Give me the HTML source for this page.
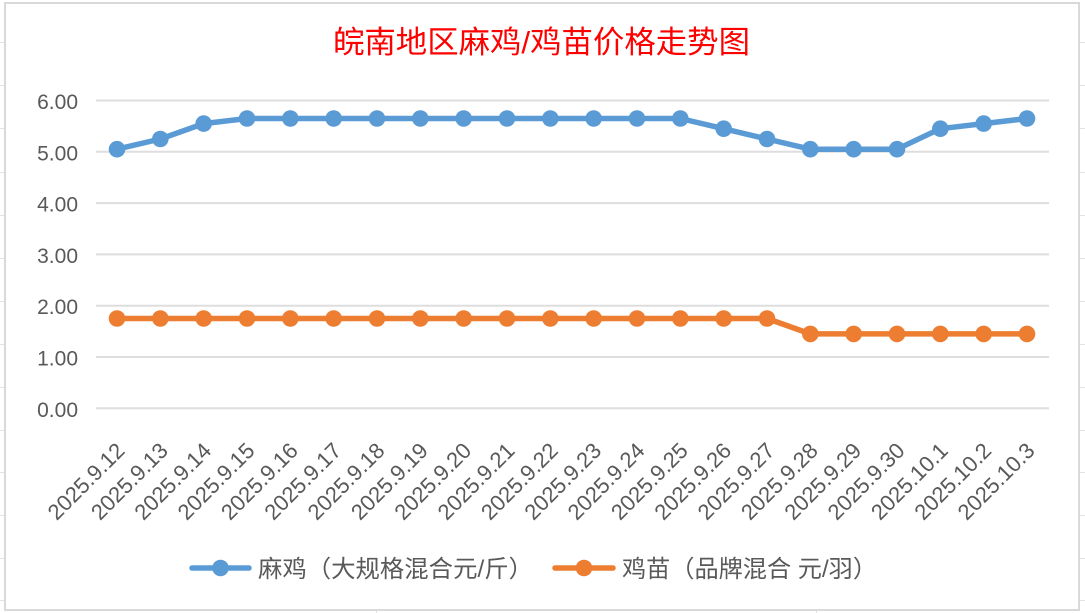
<!DOCTYPE html>
<html><head><meta charset="utf-8">
<style>
html,body{margin:0;padding:0;background:#fff;}
svg{display:block;}
.yl{font-family:"Liberation Sans",sans-serif;font-size:21px;fill:#595959;text-anchor:end;}
.xl{font-family:"Liberation Sans",sans-serif;font-size:22px;fill:#595959;text-anchor:end;}
.lg{font-family:"Liberation Sans","Noto Sans CJK SC",sans-serif;font-size:24px;fill:#595959;}
.tt{font-family:"Liberation Sans","Noto Sans CJK SC",sans-serif;font-size:31px;fill:#ff0000;text-anchor:middle;}
</style></head>
<body>
<svg width="1085" height="613" viewBox="0 0 1085 613" xmlns="http://www.w3.org/2000/svg">
<rect x="0" y="0" width="1085" height="613" fill="#fff"/>
<g stroke="#e2e2e2" stroke-width="1">
<path d="M0 42.5H4M0 85.5H4M0 128.5H4M0 172.5H4M0 215.5H4M0 258.5H4M0 301.5H4M0 344.5H4M0 387.5H4M0 430.5H4M0 472.5H4M0 515.5H4M0 558.5H4M0 600.5H4"/>
<path d="M1080 42.5H1085M1080 85.5H1085M1080 128.5H1085M1080 172.5H1085M1080 215.5H1085M1080 258.5H1085M1080 301.5H1085M1080 344.5H1085M1080 387.5H1085M1080 430.5H1085M1080 472.5H1085M1080 515.5H1085M1080 558.5H1085M1080 600.5H1085"/>
<path d="M376.5 611V613M816.5 611V613"/>
</g>
<rect x="5" y="3" width="1074" height="607" fill="#fff" stroke="#d9d9d9" stroke-width="2"/>
<text class="tt" x="541.5" y="53" textLength="417" lengthAdjust="spacingAndGlyphs">皖南地区麻鸡/鸡苗价格走势图</text>
<g stroke="#dedede" stroke-width="2">
<line x1="96" y1="100.5" x2="1049" y2="100.5"/>
<line x1="96" y1="151.8" x2="1049" y2="151.8"/>
<line x1="96" y1="203.1" x2="1049" y2="203.1"/>
<line x1="96" y1="254.4" x2="1049" y2="254.4"/>
<line x1="96" y1="305.7" x2="1049" y2="305.7"/>
<line x1="96" y1="357" x2="1049" y2="357"/>
<line x1="96" y1="408.3" x2="1049" y2="408.3"/>
</g>
<text class="yl" x="78" y="109">6.00</text>
<text class="yl" x="78" y="160.3">5.00</text>
<text class="yl" x="78" y="211.6">4.00</text>
<text class="yl" x="78" y="262.9">3.00</text>
<text class="yl" x="78" y="314.2">2.00</text>
<text class="yl" x="78" y="365.5">1.00</text>
<text class="yl" x="78" y="416.8">0.00</text>
<g>
<text class="xl" transform="translate(126,452) rotate(-45)">2025.9.12</text>
<text class="xl" transform="translate(169.33,452) rotate(-45)">2025.9.13</text>
<text class="xl" transform="translate(212.67,452) rotate(-45)">2025.9.14</text>
<text class="xl" transform="translate(256,452) rotate(-45)">2025.9.15</text>
<text class="xl" transform="translate(299.33,452) rotate(-45)">2025.9.16</text>
<text class="xl" transform="translate(342.67,452) rotate(-45)">2025.9.17</text>
<text class="xl" transform="translate(386,452) rotate(-45)">2025.9.18</text>
<text class="xl" transform="translate(429.33,452) rotate(-45)">2025.9.19</text>
<text class="xl" transform="translate(472.67,452) rotate(-45)">2025.9.20</text>
<text class="xl" transform="translate(516,452) rotate(-45)">2025.9.21</text>
<text class="xl" transform="translate(559.33,452) rotate(-45)">2025.9.22</text>
<text class="xl" transform="translate(602.67,452) rotate(-45)">2025.9.23</text>
<text class="xl" transform="translate(646,452) rotate(-45)">2025.9.24</text>
<text class="xl" transform="translate(689.33,452) rotate(-45)">2025.9.25</text>
<text class="xl" transform="translate(732.67,452) rotate(-45)">2025.9.26</text>
<text class="xl" transform="translate(776,452) rotate(-45)">2025.9.27</text>
<text class="xl" transform="translate(819.33,452) rotate(-45)">2025.9.28</text>
<text class="xl" transform="translate(862.67,452) rotate(-45)">2025.9.29</text>
<text class="xl" transform="translate(906,452) rotate(-45)">2025.9.30</text>
<text class="xl" transform="translate(949.33,452) rotate(-45)">2025.10.1</text>
<text class="xl" transform="translate(992.67,452) rotate(-45)">2025.10.2</text>
<text class="xl" transform="translate(1036,452) rotate(-45)">2025.10.3</text>
</g>
<polyline fill="none" stroke="#5b9bd5" stroke-width="5.5" stroke-linejoin="round" stroke-linecap="round"
points="117,149.2 160.33,139 203.67,123.6 247,118.5 290.33,118.5 333.67,118.5 377,118.5 420.33,118.5 463.67,118.5 507,118.5 550.33,118.5 593.67,118.5 637,118.5 680.33,118.5 723.67,128.7 767,139 810.33,149.2 853.67,149.2 897,149.2 940.33,128.7 983.67,123.6 1027,118.5"/>
<g fill="#5b9bd5">
<circle cx="117" cy="149.2" r="8.3"/><circle cx="160.33" cy="139" r="8.3"/><circle cx="203.67" cy="123.6" r="8.3"/><circle cx="247" cy="118.5" r="8.3"/><circle cx="290.33" cy="118.5" r="8.3"/><circle cx="333.67" cy="118.5" r="8.3"/><circle cx="377" cy="118.5" r="8.3"/><circle cx="420.33" cy="118.5" r="8.3"/><circle cx="463.67" cy="118.5" r="8.3"/><circle cx="507" cy="118.5" r="8.3"/><circle cx="550.33" cy="118.5" r="8.3"/><circle cx="593.67" cy="118.5" r="8.3"/><circle cx="637" cy="118.5" r="8.3"/><circle cx="680.33" cy="118.5" r="8.3"/><circle cx="723.67" cy="128.7" r="8.3"/><circle cx="767" cy="139" r="8.3"/><circle cx="810.33" cy="149.2" r="8.3"/><circle cx="853.67" cy="149.2" r="8.3"/><circle cx="897" cy="149.2" r="8.3"/><circle cx="940.33" cy="128.7" r="8.3"/><circle cx="983.67" cy="123.6" r="8.3"/><circle cx="1027" cy="118.5" r="8.3"/>
</g>
<polyline fill="none" stroke="#ed7d31" stroke-width="5.5" stroke-linejoin="round" stroke-linecap="round"
points="117,318.5 160.33,318.5 203.67,318.5 247,318.5 290.33,318.5 333.67,318.5 377,318.5 420.33,318.5 463.67,318.5 507,318.5 550.33,318.5 593.67,318.5 637,318.5 680.33,318.5 723.67,318.5 767,318.5 810.33,333.9 853.67,333.9 897,333.9 940.33,333.9 983.67,333.9 1027,333.9"/>
<g fill="#ed7d31">
<circle cx="117" cy="318.5" r="8.3"/><circle cx="160.33" cy="318.5" r="8.3"/><circle cx="203.67" cy="318.5" r="8.3"/><circle cx="247" cy="318.5" r="8.3"/><circle cx="290.33" cy="318.5" r="8.3"/><circle cx="333.67" cy="318.5" r="8.3"/><circle cx="377" cy="318.5" r="8.3"/><circle cx="420.33" cy="318.5" r="8.3"/><circle cx="463.67" cy="318.5" r="8.3"/><circle cx="507" cy="318.5" r="8.3"/><circle cx="550.33" cy="318.5" r="8.3"/><circle cx="593.67" cy="318.5" r="8.3"/><circle cx="637" cy="318.5" r="8.3"/><circle cx="680.33" cy="318.5" r="8.3"/><circle cx="723.67" cy="318.5" r="8.3"/><circle cx="767" cy="318.5" r="8.3"/><circle cx="810.33" cy="333.9" r="8.3"/><circle cx="853.67" cy="333.9" r="8.3"/><circle cx="897" cy="333.9" r="8.3"/><circle cx="940.33" cy="333.9" r="8.3"/><circle cx="983.67" cy="333.9" r="8.3"/><circle cx="1027" cy="333.9" r="8.3"/>
</g>
<line x1="192" y1="568" x2="249" y2="568" stroke="#5b9bd5" stroke-width="5.5" stroke-linecap="round"/>
<circle cx="220.5" cy="568" r="8.3" fill="#5b9bd5"/>
<text class="lg" x="258" y="577" textLength="275" lengthAdjust="spacingAndGlyphs">麻鸡（大规格混合元/斤）</text>
<line x1="555" y1="568" x2="613" y2="568" stroke="#ed7d31" stroke-width="5.5" stroke-linecap="round"/>
<circle cx="584" cy="568" r="8.3" fill="#ed7d31"/>
<text class="lg" x="622" y="577" textLength="255" lengthAdjust="spacingAndGlyphs">鸡苗（品牌混合 元/羽）</text>
</svg>
</body></html>
